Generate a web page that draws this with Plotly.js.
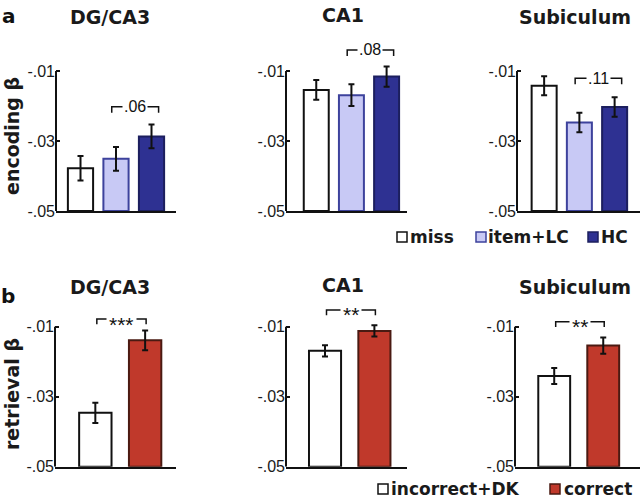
<!DOCTYPE html>
<html>
<head>
<meta charset="utf-8">
<script src="https://cdn.plot.ly/plotly-3.0.1.min.js"></script>
<style>
html,body{margin:0;padding:0;background:#fff;}
#chart{width:640px;height:499px;}
</style>
</head>
<body>
<div id="chart"></div>
<script>
// ---------- DATA ----------
const regions = ['DG/CA3', 'CA1', 'Subiculum'];
const encConditions = ['miss', 'item+LC', 'HC'];
const retConditions = ['incorrect+DK', 'correct'];

const encDG = [-0.0378, -0.0351, -0.0287];
const encDGErr = [0.0035, 0.0034, 0.0034];
const encCA1 = [-0.0154, -0.0169, -0.0116];
const encCA1Err = [0.0028, 0.0031, 0.0029];
const encSub = [-0.0142, -0.0247, -0.0203];
const encSubErr = [0.0027, 0.0028, 0.0028];

const retDG = [-0.0346, -0.0139];
const retDGErr = [0.0029, 0.0028];
const retCA1 = [-0.0169, -0.0112];
const retCA1Err = [0.0016, 0.0016];
const retSub = [-0.0241, -0.0154];
const retSubErr = [0.0023, 0.0023];

const encBracketLabels = ['.06', '.08', '.11'];
const encBracketLevels = [-0.0202, -0.0040, -0.0121];
const encBracketPair = [1, 2];
const retBracketLabels = ['***', '**', '**'];
const retBracketLevels = [-0.0078, -0.0052, -0.0086];
const retBracketPair = [0, 1];

const yTickVals = [-0.05, -0.03, -0.01];
const yTickText = ['-.05', '-.03', '-.01'];
const yBase = -0.05;
const yTop = 0;
const yAxisLineTop = -0.01;

// ---------- STYLE ----------
const W = 640, H = 499;
const px = x => x / W;
const py = y => 1 - y / H;
const FONT = 'DejaVu Sans, Liberation Sans, Arial, sans-serif';
const TICKFONT = 'Liberation Sans, Arial, sans-serif';

const encFill = ['#ffffff', '#c8c9f5', '#2e3192'];
const encLine = ['#111111', '#3d429c', '#1c1f5e'];
const retFill = ['#ffffff', '#c0392b'];
const retLine = ['#111111', '#4a1a12'];

const panelX = [
  {d: [56, 176], r: [-0.69, 2.69]},
  {d: [286, 407], r: [-0.86, 2.58]},
  {d: [517, 640], r: [-0.77, 2.72]},
  {d: [55, 176], r: [-0.81, 1.62]},
  {d: [286, 407], r: [-0.79, 1.66]},
  {d: [515, 640], r: [-0.80, 1.75]}
];
const rowY = [{bottom: 211, top: 36}, {bottom: 466.7, top: 291.7}];

const encData = [encDG, encCA1, encSub];
const encErrs = [encDGErr, encCA1Err, encSubErr];
const retData = [retDG, retCA1, retSub];
const retErrs = [retDGErr, retCA1Err, retSubErr];

const traces = [];
const layout = {
  width: W, height: H,
  margin: {l: 0, r: 0, t: 0, b: 0},
  paper_bgcolor: '#fff', plot_bgcolor: 'rgba(0,0,0,0)',
  showlegend: false,
  font: {family: FONT, color: '#1a1a1a'},
  shapes: [], annotations: []
};

function addPanel(idx, row, cats, vals, errs, fills, lines, barWidth) {
  const n = idx + 1;
  const xa = 'x' + (n === 1 ? '' : n), ya = 'y' + (n === 1 ? '' : n);
  const xIdx = cats.map((c, i) => i);
  traces.push({
    type: 'bar', x: xIdx, y: vals.map(v => v - yBase), base: yBase,
    xaxis: xa, yaxis: ya, width: barWidth,
    marker: {color: fills, line: {color: lines, width: 2}},
    error_y: {type: 'data', array: errs, visible: true, color: '#111', thickness: 2, width: 3},
    hoverinfo: 'skip'
  });
  const pd = panelX[idx], ry = rowY[row];
  layout['xaxis' + (n === 1 ? '' : n)] = {
    domain: [px(pd.d[0]), px(pd.d[1])], range: pd.r, anchor: ya,
    showline: true, linecolor: '#111', linewidth: 2, showgrid: false, zeroline: false,
    showticklabels: false, ticks: '', fixedrange: true
  };
  layout['yaxis' + (n === 1 ? '' : n)] = {
    domain: [py(ry.bottom), py(ry.top)], range: [yBase, yTop], anchor: xa,
    showline: false, showgrid: false, zeroline: false,
    tickvals: yTickVals, ticktext: yTickText, ticks: 'inside', ticklen: 4, tickwidth: 2, tickcolor: '#111',
    tickfont: {family: TICKFONT, size: 16, color: '#1a1a1a'}, fixedrange: true
  };
  layout.shapes.push({type: 'line', xref: xa + ' domain', yref: ya, x0: 0, x1: 0,
    y0: yBase, y1: yAxisLineTop, line: {color: '#111', width: 2}});
}

for (let i = 0; i < 3; i++) {
  addPanel(i, 0, encConditions, encData[i], encErrs[i], encFill, encLine, 0.71);
  addPanel(i + 3, 1, retConditions, retData[i], retErrs[i], retFill, retLine, 0.65);
}

function addBracket(idx, pair, level, label, offL, offR, leg, star) {
  const n = idx + 1;
  const xa = 'x' + (n === 1 ? '' : n), ya = 'y' + (n === 1 ? '' : n);
  const x0 = pair[0] + offL, x1 = pair[1] + offR;
  layout.shapes.push({type: 'path', xref: xa, yref: ya,
    path: `M ${x0} ${level - leg} L ${x0} ${level} L ${x1} ${level} L ${x1} ${level - leg}`,
    line: {color: '#111', width: 1.5}});
  layout.annotations.push({xref: xa, yref: ya, x: (x0 + x1) / 2, y: level, text: label,
    showarrow: false, bgcolor: '#fff', borderpad: star ? 2 : 1, yshift: star ? -5 : 0,
    font: {family: TICKFONT, size: star ? 21 : 16, color: '#111'}});
}
for (let i = 0; i < 3; i++) {
  addBracket(i, encBracketPair, encBracketLevels[i], encBracketLabels[i], -0.12, 0.2, 0.0017, false);
  addBracket(i + 3, retBracketPair, retBracketLevels[i], retBracketLabels[i], 0.03, 0.02, 0.0015, true);
}

const titleX = [110, 343, 575];
const titleYA = [17, 15, 17];
const titleYB = [287, 285, 287];
for (let i = 0; i < 3; i++) {
  layout.annotations.push({xref: 'paper', yref: 'paper', x: px(titleX[i]), y: py(titleYA[i]), text: '<b>' + regions[i] + '</b>',
    showarrow: false, xanchor: 'center', yanchor: 'middle', font: {family: FONT, size: 19, color: '#1a1a1a'}});
  layout.annotations.push({xref: 'paper', yref: 'paper', x: px(titleX[i]), y: py(titleYB[i]), text: '<b>' + regions[i] + '</b>',
    showarrow: false, xanchor: 'center', yanchor: 'middle', font: {family: FONT, size: 19, color: '#1a1a1a'}});
}
layout.annotations.push({xref: 'paper', yref: 'paper', x: px(9), y: py(16), text: '<b>a</b>', showarrow: false,
  xanchor: 'center', yanchor: 'middle', font: {family: FONT, size: 20, color: '#111'}});
layout.annotations.push({xref: 'paper', yref: 'paper', x: px(8), y: py(296), text: '<b>b</b>', showarrow: false,
  xanchor: 'center', yanchor: 'middle', font: {family: FONT, size: 20, color: '#111'}});
layout.annotations.push({xref: 'paper', yref: 'paper', x: px(12), y: py(136), text: '<b>encoding β</b>', showarrow: false,
  textangle: -90, xanchor: 'center', yanchor: 'middle', font: {family: FONT, size: 19, color: '#1a1a1a'}});
layout.annotations.push({xref: 'paper', yref: 'paper', x: px(12), y: py(394), text: '<b>retrieval β</b>', showarrow: false,
  textangle: -90, xanchor: 'center', yanchor: 'middle', font: {family: FONT, size: 19, color: '#1a1a1a'}});

function legendItem(bx, by, label, fill, line, tx) {
  layout.shapes.push({type: 'rect', xref: 'paper', yref: 'paper', x0: px(bx), x1: px(bx + 10),
    y0: py(by + 5), y1: py(by - 5), fillcolor: fill, line: {color: line, width: 1.5}});
  layout.annotations.push({xref: 'paper', yref: 'paper', x: px(tx), y: py(by - 0.5), text: '<b>' + label + '</b>',
    showarrow: false, xanchor: 'left', yanchor: 'middle', borderpad: 0, font: {family: FONT, size: 17, color: '#1a1a1a'}});
}
const encLegBox = [397, 476, 588];
const encLegText = [409, 487, 600];
for (let i = 0; i < 3; i++) legendItem(encLegBox[i], 237, encConditions[i], encFill[i], i === 0 ? '#111' : encLine[i], encLegText[i]);
const retLegBox = [378, 550];
const retLegText = [390, 563];
for (let i = 0; i < 2; i++) legendItem(retLegBox[i], 489, retConditions[i], retFill[i], retLine[i], retLegText[i]);

Plotly.newPlot('chart', traces, layout, {displayModeBar: false, staticPlot: true});
</script>
</body>
</html>
